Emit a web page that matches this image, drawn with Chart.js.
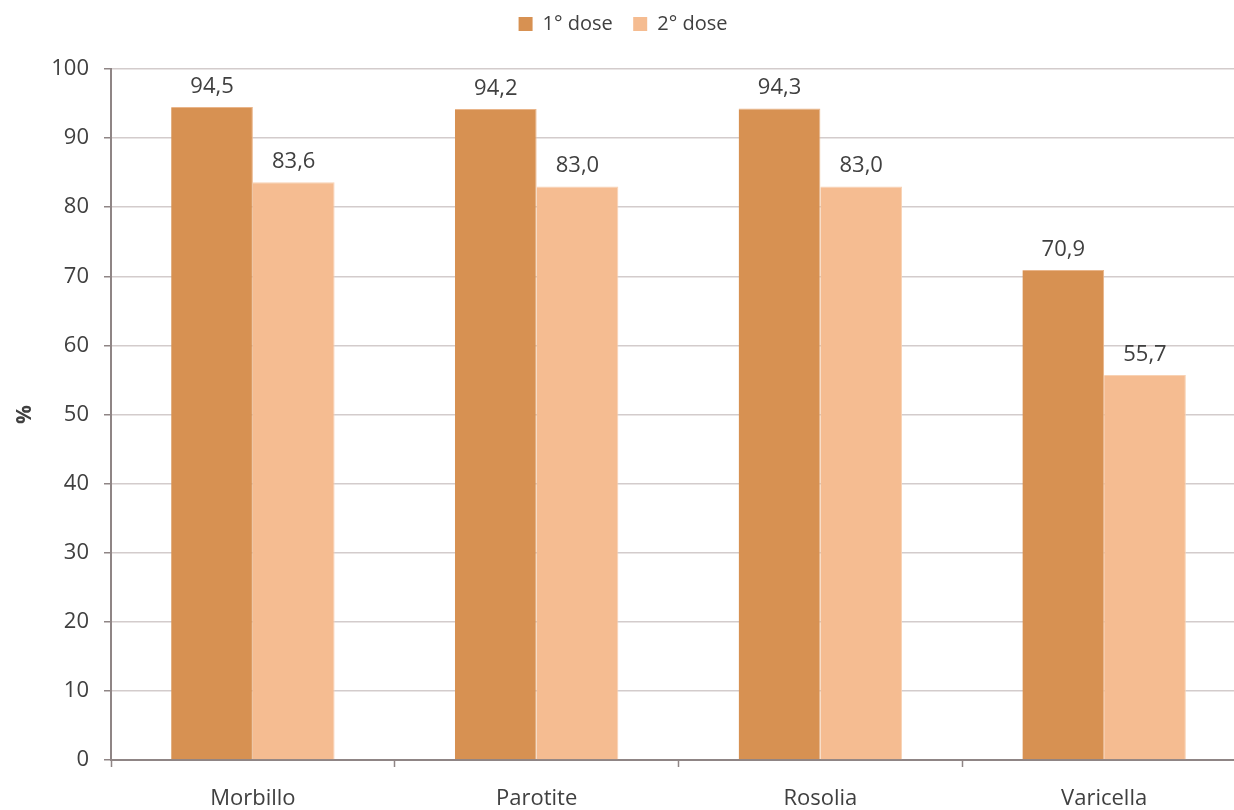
<!DOCTYPE html>
<html>
<head>
<meta charset="utf-8">
<script src="https://cdn.jsdelivr.net/npm/chart.js@4"></script>
<style>
  html, body { margin: 0; padding: 0; background: #fff; overflow: hidden; }
  #wrap { width: 1246px; height: 810px; }
</style>
</head>
<body>
<div id="wrap"><canvas id="chart" width="1246" height="810"></canvas></div>
<script>
// data
const categories = ['Morbillo', 'Parotite', 'Rosolia', 'Varicella'];
const dose1 = [94.5, 94.2, 94.3, 70.9];
const dose2 = [83.6, 83.0, 83.0, 55.7];
const seriesNames = ['1° dose', '2° dose'];
const yTicks = [0, 10, 20, 30, 40, 50, 60, 70, 80, 90, 100];

const FONT = '"Open Sans", Lato, sans-serif';
const TEXT = '#404040';
const COLORS = ['#D79152', '#F5BC91'];

// value labels above the bars, Italian decimal comma
const barLabels = {
    id: 'barLabels',
    afterDatasetsDraw(chart) {
        const ctx = chart.ctx;
        ctx.save();
        ctx.font = '22px ' + FONT;
        ctx.fillStyle = TEXT;
        ctx.textAlign = 'center';
        ctx.textBaseline = 'alphabetic';
        chart.data.datasets.forEach((ds, i) => {
            chart.getDatasetMeta(i).data.forEach((bar, j) => {
                ctx.fillText(ds.data[j].toFixed(1).replace('.', ','), bar.x, bar.y - 14);
            });
        });
        ctx.restore();
    }
};

// pad the legend so the plot starts where it does in the reference
const legendPad = {
    id: 'legendPad',
    beforeInit(chart) {
        const fit = chart.legend.fit;
        chart.legend.fit = function () {
            fit.bind(chart.legend)();
            this.height += 25;
        };
    }
};

new Chart(document.getElementById('chart'), {
    type: 'bar',
    data: {
        labels: categories,
        datasets: [
            { label: seriesNames[0], data: dose1, backgroundColor: COLORS[0], borderColor: '#E9B58A', borderWidth: { top: 1, left: 0, right: 1, bottom: 0 }, borderSkipped: 'bottom' },
            { label: seriesNames[1], data: dose2, backgroundColor: COLORS[1], borderColor: '#F8D2B4', borderWidth: { top: 1, left: 0, right: 1, bottom: 0 }, borderSkipped: 'bottom' }
        ]
    },
    options: {
        responsive: false,
        animation: false,
        layout: { padding: { left: 0, right: 0, top: 4, bottom: 0 } },
        datasets: { bar: { barPercentage: 1, categoryPercentage: 0.576 } },
        plugins: {
            legend: {
                position: 'top',
                labels: {
                    font: { family: FONT, size: 20 },
                    color: TEXT,
                    boxWidth: 14,
                    boxHeight: 14,
                    padding: 10,
                    // extra spaces widen the gap between the two entries
                    generateLabels: (chart) => chart.data.datasets.map((ds, i) => ({
                        text: i === 0 ? ds.label + '  ' : ds.label,
                        fillStyle: COLORS[i],
                        strokeStyle: COLORS[i],
                        lineWidth: 0,
                        fontColor: TEXT,
                        datasetIndex: i
                    }))
                }
            },
            tooltip: { enabled: false }
        },
        scales: {
            x: {
                grid: { offset: true, drawOnChartArea: false, color: '#8F8585', tickLength: 7, tickWidth: 1.5 },
                border: { color: '#8F8585', width: 2 },
                ticks: { font: { family: FONT, size: 22 }, color: TEXT, padding: 19 },
                afterFit(scale) { scale.height = 50; }
            },
            y: {
                min: 0,
                max: 100,
                afterBuildTicks(scale) { scale.ticks = yTicks.map(v => ({ value: v })); },
                grid: { color: '#D3CCCC', lineWidth: 1.5, tickColor: '#8F8585', tickLength: 7 },
                border: { color: '#8F8585', width: 2 },
                ticks: { font: { family: FONT, size: 22 }, color: TEXT, padding: 15 },
                title: { display: true, text: '%', font: { family: FONT, size: 21, weight: 'bold' }, color: TEXT, padding: { top: 12, bottom: 0 } },
                afterFit(scale) { scale.width = 111; }
            }
        }
    },
    plugins: [barLabels, legendPad]
});
</script>
</body>
</html>
